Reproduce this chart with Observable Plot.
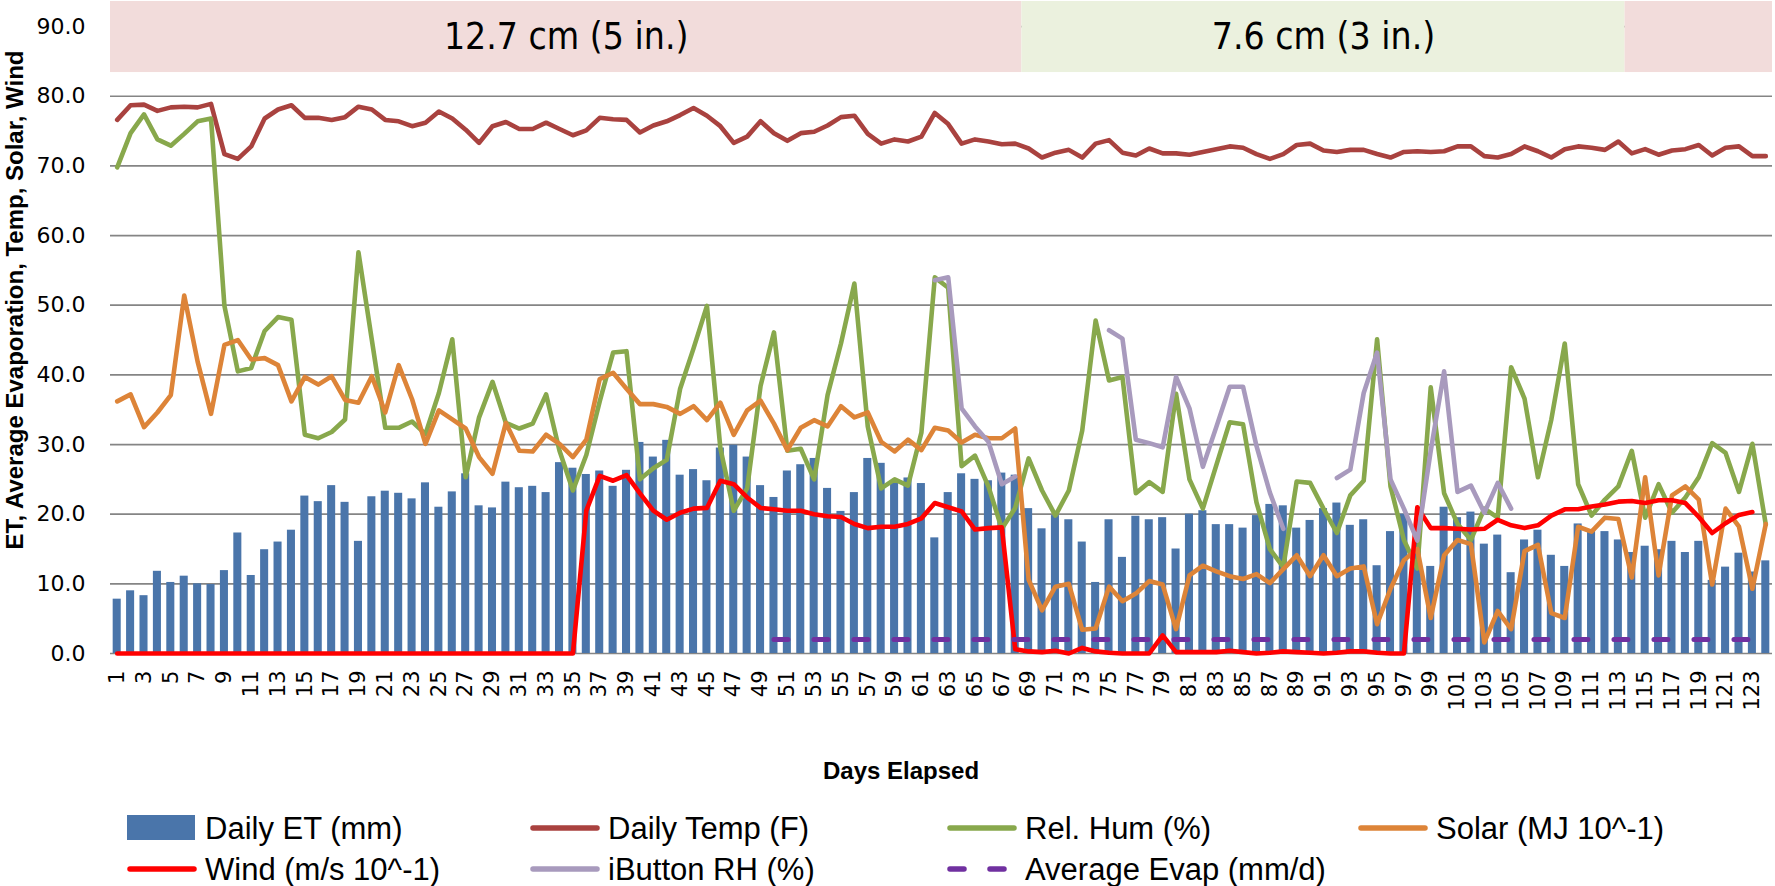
<!DOCTYPE html>
<html>
<head>
<meta charset="utf-8">
<script src="https://cdn.jsdelivr.net/npm/d3@7"></script>
<script src="https://cdn.jsdelivr.net/npm/@observablehq/plot@0.6"></script>
<style>
  html, body { margin: 0; padding: 0; background: #ffffff; }
  #wrap { position: relative; width: 1775px; height: 886px; overflow: hidden; background: #ffffff; }
  #chart { position: absolute; left: 0; top: 0; }
  .title { position: absolute; font-family: "Liberation Sans Narrow", "Liberation Sans", sans-serif; font-weight: bold; font-size: 24px; color: #000; white-space: nowrap; line-height: 1; }
  .lg { position: absolute; height: 40px; display: flex; align-items: center; white-space: nowrap; }
  .lg span { font-family: "Liberation Sans Narrow", "Liberation Sans", sans-serif; font-size: 31px; color: #000; margin-left: 8px; line-height: 1; }
</style>
</head>
<body>
<div id="wrap"><div id="chart"></div></div>
<script>
// ---------------- data ----------------
const et = [7.8,9.0,8.3,11.8,10.2,11.1,10.0,9.9,11.9,17.3,
  11.2,14.9,16.0,17.7,22.6,21.8,24.1,21.7,16.1,22.5,
  23.3,23.0,22.2,24.5,21.0,23.2,25.8,21.2,20.9,24.6,
  23.8,24.0,23.1,27.4,26.6,25.7,26.2,24.0,26.3,30.3,
  28.2,30.6,25.6,26.4,24.8,29.5,29.9,28.2,24.1,22.4,
  26.2,27.1,28.0,23.7,20.4,23.1,28.0,27.3,24.6,25.2,
  24.4,16.6,23.1,25.8,25.0,24.8,25.9,25.6,20.8,17.9,
  19.8,19.2,16.0,10.2,19.2,13.8,19.7,19.2,19.5,15.0,
  20.0,20.5,18.5,18.5,18.0,19.8,21.4,21.2,18.0,19.1,
  20.8,21.6,18.4,19.2,12.6,17.5,20.0,16.0,12.5,21.0,
  19.5,20.3,15.7,17.0,11.6,16.3,17.7,14.1,12.5,18.6,
  17.6,17.5,16.3,14.5,15.4,14.9,16.1,14.5,16.1,10.5,
  12.4,14.4,11.7,13.3];

const temp = [76.6,78.7,78.8,77.9,78.4,78.5,78.4,78.9,71.7,71.0,
  72.8,76.8,78.1,78.7,76.9,76.9,76.6,77.0,78.5,78.1,
  76.6,76.4,75.7,76.2,77.8,76.8,75.2,73.3,75.7,76.3,
  75.3,75.3,76.2,75.3,74.4,75.1,76.9,76.7,76.6,74.8,
  75.8,76.4,77.3,78.3,77.2,75.7,73.3,74.2,76.4,74.7,
  73.6,74.7,74.9,75.8,77.0,77.2,74.6,73.2,73.8,73.5,
  74.2,77.6,76.0,73.2,73.8,73.5,73.1,73.2,72.5,71.2,
  71.9,72.3,71.2,73.2,73.7,71.9,71.5,72.5,71.8,71.8,
  71.6,72.0,72.4,72.8,72.6,71.7,71.0,71.7,73.0,73.2,
  72.2,72.0,72.3,72.3,71.7,71.2,72.0,72.1,72.0,72.1,
  72.8,72.8,71.4,71.2,71.7,72.8,72.1,71.2,72.4,72.8,
  72.6,72.3,73.5,71.8,72.4,71.6,72.2,72.4,73.0,71.5,
  72.6,72.8,71.4,71.4];

const relHum = [69.8,74.7,77.4,73.8,72.9,74.6,76.4,76.8,49.9,40.5,
  41.0,46.3,48.3,47.9,31.4,30.9,31.8,33.6,57.6,45.0,
  32.4,32.4,33.3,31.5,37.4,45.1,25.3,33.9,39.0,33.1,
  32.3,33.0,37.2,29.1,23.4,28.5,36.2,43.2,43.4,25.0,
  26.6,27.8,38.0,43.8,49.9,29.5,20.5,23.7,38.4,46.1,
  29.1,29.4,25.0,37.1,44.5,53.1,32.6,23.7,25.0,24.1,
  31.7,54.0,52.5,26.9,28.4,24.0,17.9,20.9,28.0,23.4,
  19.8,23.4,32.0,47.8,39.2,39.7,23.0,24.6,23.2,37.3,
  25.0,20.8,27.0,33.2,32.9,21.7,15.0,12.4,24.7,24.5,
  20.8,17.3,22.7,24.8,45.1,24.0,16.3,12.2,38.2,23.0,
  18.6,16.3,20.8,19.5,41.1,36.6,25.3,33.6,44.5,24.3,
  19.8,22.1,24.0,29.1,19.5,24.3,20.2,22.4,25.3,30.2,
  28.8,23.2,30.1,18.5];

const solar = [36.2,37.2,32.5,34.6,37.1,51.4,41.9,34.4,44.3,45.0,
  42.2,42.4,41.4,36.2,39.7,38.6,39.8,36.4,36.0,39.8,
  34.6,41.4,36.5,30.1,34.9,33.6,32.3,28.2,25.8,33.1,
  29.1,29.0,31.4,30.1,28.2,30.7,39.4,40.3,38.0,35.8,
  35.8,35.4,34.4,35.5,33.5,36.0,31.4,34.9,36.3,33.0,
  29.2,32.4,33.5,32.6,35.5,33.9,34.6,30.4,29.0,30.7,
  29.2,32.4,32.0,30.3,31.4,30.9,30.9,32.3,10.6,6.2,
  9.6,10.0,3.4,3.6,9.6,7.5,8.6,10.4,9.9,3.5,
  11.2,12.6,11.8,11.1,10.7,11.4,10.1,12.1,14.1,11.1,
  14.1,11.1,12.2,12.5,4.2,9.3,13.4,15.0,5.1,14.1,
  16.3,15.7,1.6,6.1,3.5,14.7,15.6,5.8,5.1,18.2,
  17.5,19.5,19.3,10.9,25.3,11.2,22.7,24.0,22.1,9.9,
  20.8,18.2,9.3,18.6];

const wind = [0,0,0,0,0,0,0,0,0,0,
  0,0,0,0,0,0,0,0,0,0,
  0,0,0,0,0,0,0,0,0,0,
  0,0,0,0,0,20.5,25.5,24.8,25.6,23.0,
  20.5,19.2,20.2,20.8,20.9,24.8,24.3,22.4,20.9,20.7,
  20.5,20.5,20.0,19.7,19.6,18.6,18.0,18.2,18.2,18.6,
  19.4,21.6,21.0,20.4,17.8,18.0,18.1,0.6,0.3,0.2,
  0.4,0.0,0.8,0.3,0.1,0.0,0.0,0.0,2.6,0.2,
  0.2,0.2,0.2,0.4,0.2,0.0,0.1,0.3,0.2,0.1,
  0.0,0.1,0.3,0.3,0.1,0.0,0.0,21.0,18.0,18.0,
  17.9,17.8,17.9,19.2,18.4,18.0,18.4,19.8,20.7,20.7,
  21.1,21.4,21.8,21.9,21.6,22.0,22.0,21.6,19.6,17.3,
  18.7,19.9,20.3,null];

const iButtonRH = [null,null,null,null,null,null,null,null,null,null,
  null,null,null,null,null,null,null,null,null,null,
  null,null,null,null,null,null,null,null,null,null,
  null,null,null,null,null,null,null,null,null,null,
  null,null,null,null,null,null,null,null,null,null,
  null,null,null,null,null,null,null,null,null,null,
  null,53.6,54.0,35.2,32.6,30.4,24.3,25.4,null,null,
  null,null,null,null,46.4,45.2,30.7,30.2,29.6,39.7,
  35.2,26.8,32.5,38.3,38.3,29.8,23.1,17.9,null,null,
  null,25.2,26.4,37.4,43.2,25.0,20.8,16.2,29.1,40.5,
  23.2,24.1,20.2,24.5,20.8,null,null,null,null,null,
  null,null,null,null,null,null,null,null,null,null,
  null,null,null,null];

const avgEvap = [null,null,null,null,null,null,null,null,null,null,
  null,null,null,null,null,null,null,null,null,null,
  null,null,null,null,null,null,null,null,null,null,
  null,null,null,null,null,null,null,null,null,null,
  null,null,null,null,null,null,null,null,null,2.0,
  2.0,2.0,2.0,2.0,2.0,2.0,2.0,2.0,2.0,2.0,
  2.0,2.0,2.0,2.0,2.0,2.0,2.0,2.0,2.0,2.0,
  2.0,2.0,2.0,2.0,2.0,2.0,2.0,2.0,2.0,2.0,
  2.0,2.0,2.0,2.0,2.0,2.0,2.0,2.0,2.0,2.0,
  2.0,2.0,2.0,2.0,2.0,2.0,2.0,2.0,2.0,2.0,
  2.0,2.0,2.0,2.0,2.0,2.0,2.0,2.0,2.0,2.0,
  2.0,2.0,2.0,2.0,2.0,2.0,2.0,2.0,2.0,2.0,
  2.0,2.0,2.0,2.0];

const seriesNames = ["Daily ET (mm)", "Daily Temp (F)", "Rel. Hum (%)", "Solar (MJ 10^-1)",
  "Wind (m/s 10^-1)", "iButton RH (%)", "Average Evap (mm/d)"];
const yTicks = [0, 10, 20, 30, 40, 50, 60, 70, 80, 90];
const bandLabels = ["12.7 cm (5 in.)", "7.6 cm (3 in.)", ""];
const bandFirstDay = [1, 69, 114];
const bandLastDay = [68, 113, 124];
const xTitle = "Days Elapsed";
const yTitle = "ET, Average Evaporation, Temp, Solar, Wind";

// ---------------- styles ----------------
const colors = {
  et: "#4a75aa", temp: "#a9423f", rh: "#88a84c", solar: "#dd8438",
  wind: "#ff0000", ibutton: "#a89abd", avg: "#7030a0"
};
const bandColors = ["#f2dcdb", "#ebf1de", "#f2dcdb"];
const Y_MAX = 93.6, BAND_BOTTOM = 83.4;

const days = et.map((_, i) => i + 1);
const oddDays = days.filter(d => d % 2 === 1);
const rows = days.map((day, i) => ({
  day, et: et[i], temp: temp[i], rh: relHum[i], solar: solar[i],
  wind: wind[i], ibutton: iButtonRH[i], avg: avgEvap[i]
}));
const bands = bandLabels.map((label, i) => ({
  label, first: bandFirstDay[i], last: bandLastDay[i], color: bandColors[i]
}));

const lineOpts = {x: "day", strokeWidth: 4.6, strokeLinejoin: "round", strokeLinecap: "round"};

const plot = Plot.plot({
  width: 1775,
  height: 800,
  marginTop: 1,
  marginLeft: 110,
  marginRight: 3,
  marginBottom: 147,
  style: {fontFamily: "DejaVu Sans, sans-serif", background: "#ffffff", color: "#000"},
  x: {domain: [0.5, days.length + 0.5]},
  y: {domain: [0, Y_MAX]},
  marks: [
    Plot.ruleY(yTicks, {stroke: "#858585", strokeWidth: 1.7}),
    Plot.rectY(rows, {x1: d => d.day - 0.3, x2: d => d.day + 0.3, y: "et", fill: colors.et}),
    Plot.line(rows, {...lineOpts, y: "temp", stroke: colors.temp}),
    Plot.line(rows, {...lineOpts, y: "rh", stroke: colors.rh}),
    Plot.line(rows, {...lineOpts, y: "solar", stroke: colors.solar}),
    Plot.line(rows, {...lineOpts, y: "wind", stroke: colors.wind}),
    Plot.line(rows, {...lineOpts, y: "ibutton", stroke: colors.ibutton}),
    Plot.line(rows, {x: "day", y: "avg", stroke: colors.avg, strokeWidth: 5, strokeLinecap: "round", strokeDasharray: "14,26"}),
    Plot.rect(bands, {x1: d => d.first - 0.5, x2: d => d.last + 0.5, y1: BAND_BOTTOM, y2: Y_MAX, fill: "color"}),
    Plot.text(bands, {x: d => (d.first + d.last) / 2, y: (BAND_BOTTOM + Y_MAX) / 2, text: "label",
      fontSize: 37, fontFamily: "DejaVu Sans Condensed, DejaVu Sans, sans-serif", fill: "#000"}),
    Plot.axisX({ticks: oddDays, tickSize: 0, tickPadding: 17, tickRotate: -90, fontSize: 21, label: null, tickFormat: d => String(d)}),
    Plot.axisY({ticks: yTicks, tickSize: 0, tickPadding: 25, fontSize: 22, label: null, tickFormat: d => d.toFixed(1)})
  ]
});
document.getElementById("chart").appendChild(plot);

// ---------------- titles ----------------
const wrap = document.getElementById("wrap");
const xt = document.createElement("div");
xt.className = "title";
xt.textContent = xTitle;
xt.style.left = "901px"; xt.style.top = "771px";
xt.style.transform = "translate(-50%, -50%)";
wrap.appendChild(xt);

const yt = document.createElement("div");
yt.className = "title";
yt.textContent = yTitle;
yt.style.left = "15px"; yt.style.top = "300px";
yt.style.transform = "translate(-50%, -50%) rotate(-90deg)";
wrap.appendChild(yt);

// ---------------- legend ----------------
const legendKeys = ["et", "temp", "rh", "solar", "wind", "ibutton", "avg"];
const colX = [127, 530, 947, 1358];
const rowY = [828, 869];
legendKeys.forEach((key, i) => {
  const item = document.createElement("div");
  item.className = "lg";
  item.style.left = colX[i % 4] + "px";
  item.style.top = (rowY[Math.floor(i / 4)] - 20) + "px";
  const svg = d3.create("svg").attr("width", 70).attr("height", 40);
  if (key === "et") {
    svg.append("rect").attr("x", 0).attr("y", 7).attr("width", 68).attr("height", 25).attr("fill", colors.et);
  } else if (key === "avg") {
    svg.append("line").attr("x1", 3).attr("x2", 67).attr("y1", 20).attr("y2", 20)
      .attr("stroke", colors.avg).attr("stroke-width", 5.5).attr("stroke-linecap", "round")
      .attr("stroke-dasharray", "14,26");
  } else {
    svg.append("line").attr("x1", 3).attr("x2", 67).attr("y1", 20).attr("y2", 20)
      .attr("stroke", colors[key]).attr("stroke-width", 5.5).attr("stroke-linecap", "round");
  }
  item.appendChild(svg.node());
  const label = document.createElement("span");
  label.textContent = seriesNames[i];
  item.appendChild(label);
  wrap.appendChild(item);
});
</script>
</body>
</html>
